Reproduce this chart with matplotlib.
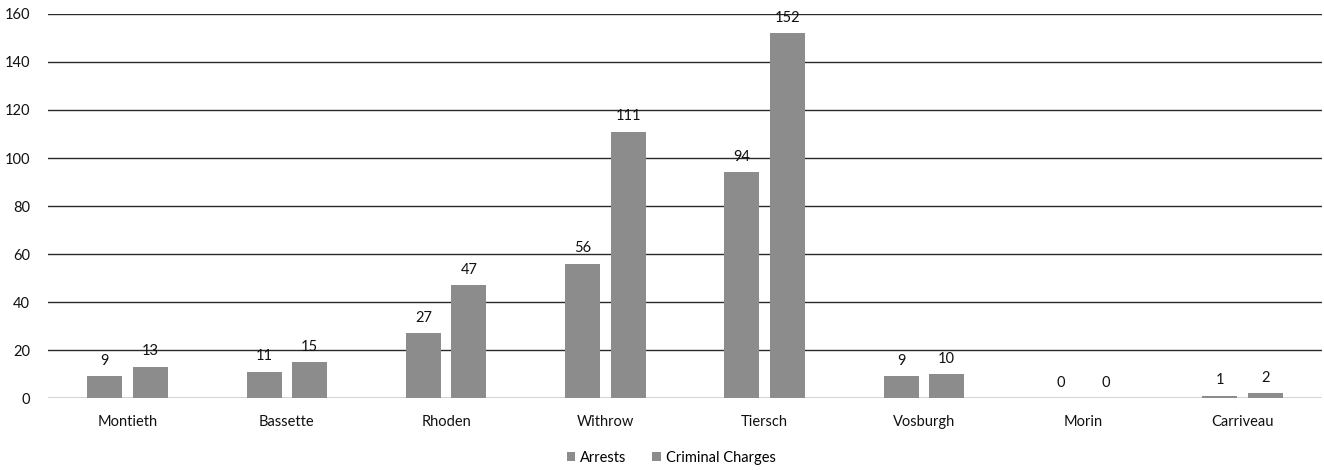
import matplotlib
matplotlib.use('Agg')
import matplotlib.pyplot as plt
import numpy as np

names = ['Montieth', 'Bassette', 'Rhoden', 'Withrow', 'Tiersch', 'Vosburgh', 'Morin', 'Carriveau']
arrests = [9, 11, 27, 56, 94, 9, 0, 1]
charges = [13, 15, 47, 111, 152, 10, 0, 2]

plt.rcParams['font.family'] = ['Lato', 'DejaVu Sans']
bar_color = '#8c8c8c'
txt = '#111111'
fs = 10.5

fig = plt.figure(figsize=(13.24, 4.70), dpi=100)
ax = fig.add_axes([48 / 1324, 1 - 398 / 470, 1274 / 1324, 384 / 470])

x = np.arange(len(names))
w = 0.22
off = 0.143
b1 = ax.bar(x - off, arrests, w, color=bar_color, label='Arrests', zorder=3)
b2 = ax.bar(x + off, charges, w, color=bar_color, label='Criminal Charges', zorder=3)

for bars in (b1, b2):
    for b in bars:
        h = b.get_height()
        ax.annotate(str(int(h)), (b.get_x() + b.get_width() / 2, h),
                    xytext=(0, 6), textcoords='offset points',
                    ha='center', va='bottom', fontsize=fs, color=txt, zorder=4)

ax.set_xlim(-0.5, len(names) - 0.5)
ax.set_ylim(0, 160)
ax.set_yticks(range(0, 161, 20))
ax.set_xticks(x)
ax.set_xticklabels(names)
ax.tick_params(axis='both', length=0, labelsize=fs, colors=txt)
ax.tick_params(axis='x', pad=12)
ax.tick_params(axis='y', pad=13)
ax.grid(axis='y', color='#2a2a2a', linewidth=1.0, zorder=0)
for s in ax.spines.values():
    s.set_visible(False)

fig.legend(loc='center', bbox_to_anchor=(671 / 1324, 1 - 458 / 470), ncol=2,
           frameon=False, fontsize=fs, handlelength=0.6, handleheight=0.6,
           handletextpad=0.3, columnspacing=1.8)

fig.savefig('out.png', dpi=100)
